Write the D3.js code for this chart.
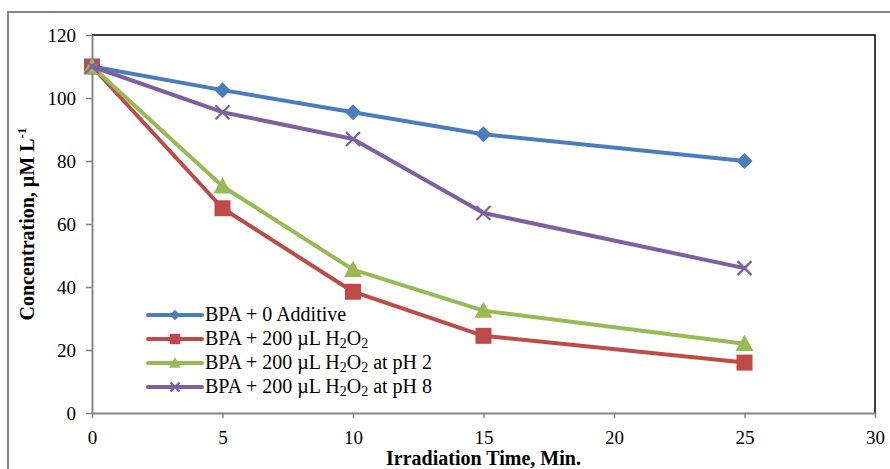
<!DOCTYPE html>
<html>
<head>
<meta charset="utf-8">
<script src="https://cdn.jsdelivr.net/npm/d3@7"></script>
<style>
  body { margin: 0; background: #fff; }
  svg { display: block; }
  svg text { font-family: "Liberation Serif", "Times New Roman", serif; }
</style>
</head>
<body>
<svg width="890" height="469"></svg>
<script>
var times = [0, 5, 10, 15, 25];
var seriesNames = ["BPA + 0 Additive", "BPA + 200 µL H2O2", "BPA + 200 µL H2O2 at pH 2", "BPA + 200 µL H2O2 at pH 8"];
var noAdditive = [110, 102.5, 95.5, 88.5, 80];
var h2o2 = [110, 65, 38.5, 24.5, 16];
var h2o2pH2 = [110, 72, 45.5, 32.5, 22];
var h2o2pH8 = [110, 95.5, 87, 63.5, 46];
var xTicks = [0, 5, 10, 15, 20, 25, 30];
var yTicks = [0, 20, 40, 60, 80, 100, 120];

var width = 890, height = 469;
var margin = {top: 35, bottom: 56, left: 92, right: 15};

var svg = d3.select('svg');

// outer chart border
svg.append('rect')
    .attr('x', 8).attr('y', 12)
    .attr('width', 900).attr('height', 500)
    .attr('fill', 'none').attr('stroke', '#868686').attr('stroke-width', 2);

var xScale = d3.scaleLinear().domain([0, 30]).range([margin.left, width - margin.right]);
var yScale = d3.scaleLinear().domain([0, 120]).range([height - margin.bottom, margin.top]);

// top and right plot borders (black)
svg.append('path')
    .attr('d', 'M' + xScale(0) + ',' + yScale(120) + 'H' + xScale(30) + 'V' + yScale(0))
    .attr('fill', 'none').attr('stroke', '#000').attr('stroke-width', 1.5);

var xAxis = d3.axisBottom(xScale).tickValues(xTicks).tickSize(5).tickSizeOuter(0);
var yAxis = d3.axisLeft(yScale).tickValues(yTicks).tickSize(6).tickSizeOuter(0);

var gx = svg.append('g')
    .attr('transform', 'translate(0,' + yScale(0) + ')')
    .call(xAxis);
var gy = svg.append('g')
    .attr('transform', 'translate(' + xScale(0) + ',0)')
    .call(yAxis);

[gx, gy].forEach(function (g) {
    g.attr('font-family', null).attr('font-size', null);
    g.select('.domain').attr('stroke', '#868686').attr('stroke-width', 2);
    g.selectAll('.tick line').attr('stroke', '#868686').attr('stroke-width', 1.5);
    g.selectAll('.tick text').attr('fill', '#000')
        .style('font-family', '"Liberation Serif", serif').style('font-size', '19px');
});
gx.selectAll('.tick text').attr('y', 14).attr('dy', '0.9em');
gy.selectAll('.tick text').attr('x', -16);

// axis titles
svg.append('text')
    .attr('x', (xScale(0) + xScale(30)) / 2).attr('y', 465)
    .attr('text-anchor', 'middle').attr('font-weight', 'bold').style('font-size', '20px')
    .text('Irradiation Time, Min.');

var yt = svg.append('text')
    .attr('transform', 'translate(34,' + ((yScale(0) + yScale(120)) / 2) + ') rotate(-90)')
    .attr('text-anchor', 'middle').attr('font-weight', 'bold').style('font-size', '20px');
yt.append('tspan').text('Concentration, µM L');
yt.append('tspan').attr('dy', -8).style('font-size', '13px').text('-1');

var colors = ['#4a7ebb', '#be4b48', '#98b954', '#7d60a0'];
var markers = ['diamond', 'square', 'triangle', 'cross'];
var allSeries = [noAdditive, h2o2, h2o2pH2, h2o2pH8];

function drawMarker(g, type, color, x, y, scale) {
    scale = scale || 1;
    if (type === 'diamond') {
        var s = 8 * scale;
        g.append('path').attr('d', 'M' + x + ',' + (y - s) + 'L' + (x + s) + ',' + y + 'L' + x + ',' + (y + s) + 'L' + (x - s) + ',' + y + 'Z')
            .attr('fill', color);
    } else if (type === 'square') {
        var s2 = 8 * scale;
        g.append('rect').attr('x', x - s2).attr('y', y - s2).attr('width', 2 * s2).attr('height', 2 * s2)
            .attr('fill', color);
    } else if (type === 'triangle') {
        var s3 = 9 * scale;
        g.append('path').attr('d', 'M' + x + ',' + (y - s3) + 'L' + (x + s3) + ',' + (y + s3 * 0.8) + 'L' + (x - s3) + ',' + (y + s3 * 0.8) + 'Z')
            .attr('fill', color);
    } else {
        var s4 = 7 * scale;
        g.append('path').attr('d', 'M' + (x - s4) + ',' + (y - s4) + 'L' + (x + s4) + ',' + (y + s4) + 'M' + (x + s4) + ',' + (y - s4) + 'L' + (x - s4) + ',' + (y + s4))
            .attr('stroke', color).attr('stroke-width', 2.2).attr('fill', 'none');
    }
}

var line = d3.line().x(function (d, i) { return xScale(times[i]); }).y(function (d) { return yScale(d); });

allSeries.forEach(function (vals, si) {
    var g = svg.append('g');
    g.append('path').datum(vals).attr('d', line)
        .attr('fill', 'none').attr('stroke', colors[si]).attr('stroke-width', 4)
        .attr('stroke-linejoin', 'round').attr('stroke-linecap', 'round');
    vals.forEach(function (v, i) {
        drawMarker(g, markers[si], colors[si], xScale(times[i]), yScale(v));
    });
});

// legend
var legendY = [315, 339, 363, 387];
var legendText = [
    [['BPA + 0 Additive']],
    [['BPA + 200 µL H'], ['2', 'sub'], ['O'], ['2', 'sub']],
    [['BPA + 200 µL H'], ['2', 'sub'], ['O'], ['2', 'sub'], [' at pH 2']],
    [['BPA + 200 µL H'], ['2', 'sub'], ['O'], ['2', 'sub'], [' at pH 8']]
];
legendY.forEach(function (ly, i) {
    var g = svg.append('g');
    g.append('line').attr('x1', 148).attr('x2', 202).attr('y1', ly).attr('y2', ly)
        .attr('stroke', colors[i]).attr('stroke-width', 4).attr('stroke-linecap', 'round');
    drawMarker(g, markers[i], colors[i], 175, ly, 0.65);
    var t = g.append('text').attr('x', 205).attr('y', ly + 6).style('font-size', '20px');
    var shift = 0;
    legendText[i].forEach(function (p) {
        var sp = t.append('tspan').text(p[0]);
        if (p[1] === 'sub') {
            sp.attr('dy', 3 - shift).style('font-size', '14px');
            shift = 3;
        } else {
            sp.attr('dy', 0 - shift);
            shift = 0;
        }
    });
});
</script>
</body>
</html>
